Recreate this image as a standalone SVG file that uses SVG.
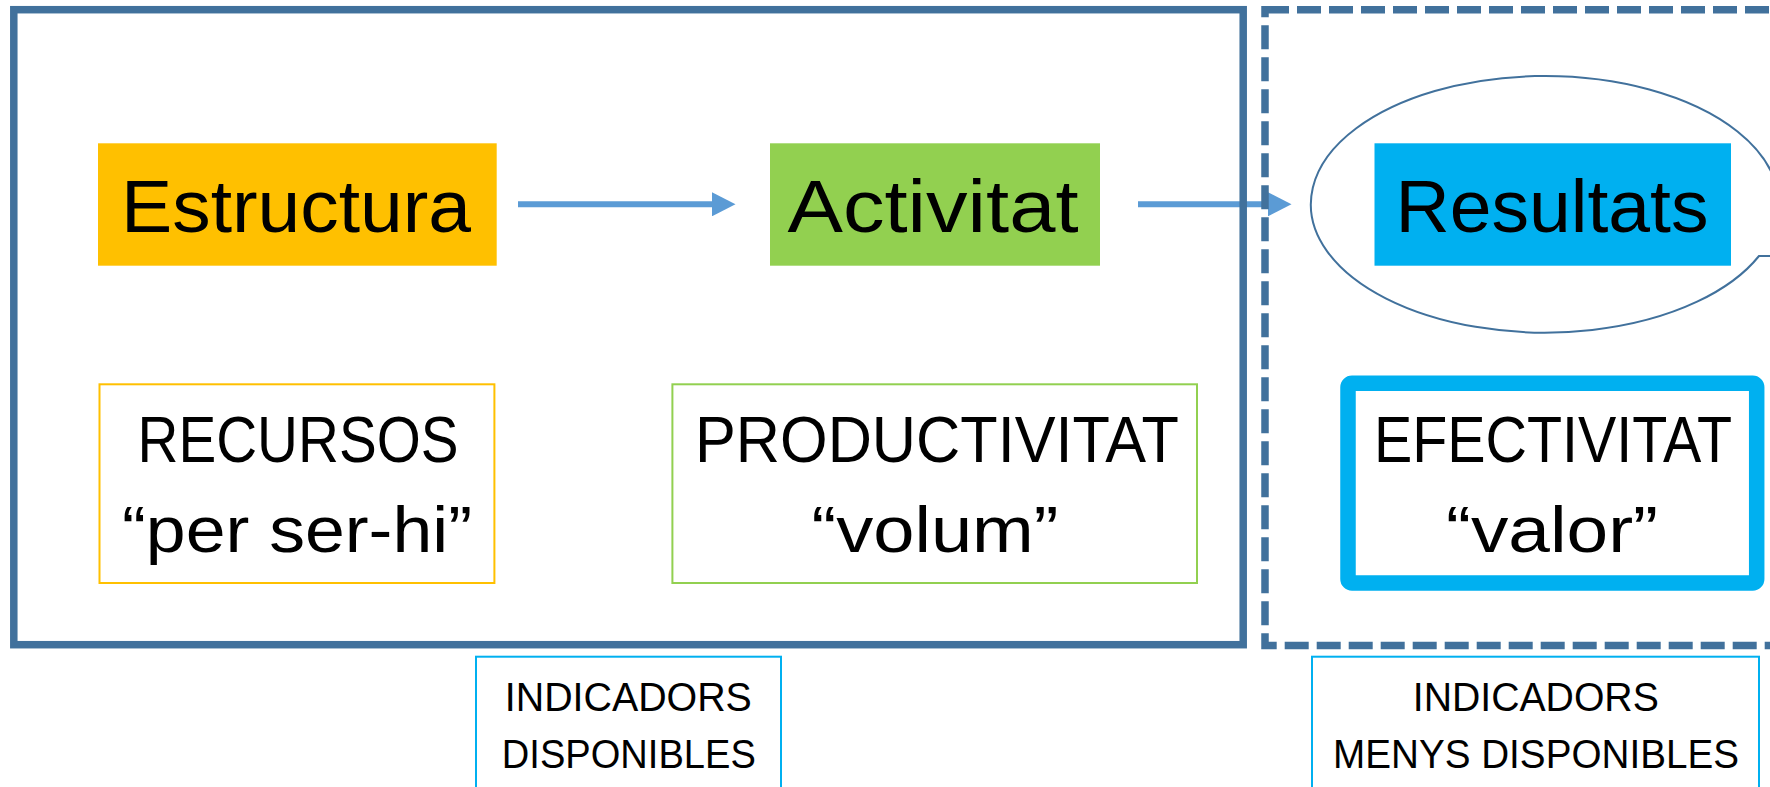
<svg xmlns="http://www.w3.org/2000/svg" width="1770" height="787" viewBox="0 0 1770 787">
  <style>
    .t { font-family: "Liberation Sans", Arial, sans-serif; fill: #000; text-anchor: middle; }
    .big { font-size: 74px; }
    .mid { font-size: 65px; }
    .sm { font-size: 41px; }
    .frame { fill: none; stroke: #41719C; stroke-width: 7.5; }
    .conn { stroke: #5B9BD5; stroke-width: 6; fill: none; }
    .ind { fill: #fff; stroke: #00B0F0; stroke-width: 2; }
  </style>
  <defs>
    <marker id="ah" viewBox="0 0 24 24" markerWidth="24" markerHeight="24" markerUnits="userSpaceOnUse" refX="1" refY="12" orient="auto">
      <path d="M0,0 L23.5,12 L0,24 z" fill="#5B9BD5"/>
    </marker>
  </defs>
  <rect width="1770" height="787" fill="#fff"/>

  <g id="connectors">
    <line class="conn" x1="518" y1="204.3" x2="713" y2="204.3" marker-end="url(#ah)"/>
    <line class="conn" x1="1138" y1="204.3" x2="1269" y2="204.3" marker-end="url(#ah)"/>
  </g>

  <g id="frame-disponibles">
    <rect class="frame" x="13.8" y="9.7" width="1229.4" height="635"/>
  </g>
  <g id="frame-menys-disponibles">
    <rect class="frame" x="1265" y="9.8" width="600" height="635.7" stroke-dasharray="24 8"/>
  </g>

  <g id="callout-resultats">
    <path d="M1759,256 A234,128.3 0 1 1 1776,184.3 L1900,256 Z" fill="none" stroke="#41719C" stroke-width="2"/>
  </g>

  <g id="node-estructura">
    <rect x="98" y="143.3" width="398.7" height="122.4" fill="#FFC000"/>
    <text class="t big" x="296" y="232.3" textLength="350" lengthAdjust="spacingAndGlyphs">Estructura</text>
  </g>
  <g id="node-activitat">
    <rect x="770" y="143.3" width="330" height="122.4" fill="#92D050"/>
    <text class="t big" x="933" y="232.3" textLength="291" lengthAdjust="spacingAndGlyphs">Activitat</text>
  </g>
  <g id="node-resultats">
    <rect x="1374.5" y="143.3" width="356.5" height="122.4" fill="#00B0F0"/>
    <text class="t big" x="1552" y="232.3" textLength="313" lengthAdjust="spacingAndGlyphs">Resultats</text>
  </g>

  <g id="node-recursos">
    <rect x="99.5" y="384.3" width="394.9" height="198.7" fill="#fff" stroke="#FFC000" stroke-width="2"/>
    <text class="t mid" x="298" y="462.3" textLength="321" lengthAdjust="spacingAndGlyphs">RECURSOS</text>
    <text class="t mid" x="297" y="551.7" textLength="350" lengthAdjust="spacingAndGlyphs">“per ser-hi”</text>
  </g>
  <g id="node-productivitat">
    <rect x="672.4" y="384.3" width="524.6" height="198.7" fill="#fff" stroke="#92D050" stroke-width="2"/>
    <text class="t mid" x="937" y="462.3" textLength="484" lengthAdjust="spacingAndGlyphs">PRODUCTIVITAT</text>
    <text class="t mid" x="935" y="551.7" textLength="247" lengthAdjust="spacingAndGlyphs">“volum”</text>
  </g>
  <g id="node-efectivitat">
    <rect x="1348" y="383.2" width="408.7" height="199.8" rx="4" fill="#fff" stroke="#00B0F0" stroke-width="15.5"/>
    <text class="t mid" x="1553" y="462.3" textLength="358" lengthAdjust="spacingAndGlyphs">EFECTIVITAT</text>
    <text class="t mid" x="1552" y="551.7" textLength="212" lengthAdjust="spacingAndGlyphs">“valor”</text>
  </g>

  <g id="node-indicadors-disponibles">
    <rect class="ind" x="476" y="656.7" width="305" height="200"/>
    <text class="t sm" x="628.3" y="711" textLength="247" lengthAdjust="spacingAndGlyphs">INDICADORS</text>
    <text class="t sm" x="628.8" y="767.7" textLength="254" lengthAdjust="spacingAndGlyphs">DISPONIBLES</text>
  </g>
  <g id="node-indicadors-menys">
    <rect class="ind" x="1312" y="656.7" width="447" height="200"/>
    <text class="t sm" x="1535.8" y="711" textLength="246" lengthAdjust="spacingAndGlyphs">INDICADORS</text>
    <text class="t sm" x="1536" y="767.7" textLength="406" lengthAdjust="spacingAndGlyphs">MENYS DISPONIBLES</text>
  </g>
</svg>
